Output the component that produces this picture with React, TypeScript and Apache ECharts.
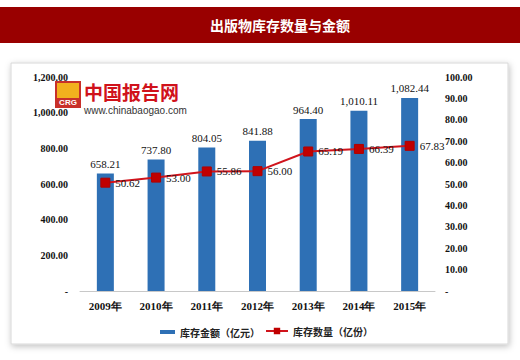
import React, { useEffect, useRef } from "react";
import * as echarts from "echarts";

const years = ["2009年", "2010年", "2011年", "2012年", "2013年", "2014年", "2015年"];
const amount = [658.21, 737.8, 804.05, 841.88, 964.4, 1010.11, 1082.44];
const quantity = [50.62, 53.0, 55.86, 56.0, 65.19, 66.39, 67.83];
const amountName = "库存金额（亿元）";
const quantityName = "库存数量（亿份）";
const title = "出版物库存数量与金额";

const fmt = (v: number) =>
  v === 0 ? "-" : v.toLocaleString("en-US", { minimumFractionDigits: 2, maximumFractionDigits: 2 });

const serif = "'Liberation Serif', 'Times New Roman', serif";
const cjk = "'Noto Sans CJK SC', sans-serif";

export default function App() {
  const ref = useRef<HTMLDivElement>(null);
  useEffect(() => {
    if (!ref.current) return;
    const chart = echarts.init(ref.current, null, { renderer: "svg" });
    chart.setOption({
      animation: false,
      backgroundColor: "#ffffff",
      graphic: [
        { type: "rect", z: -10, shape: { x: 0, y: 7, width: 520, height: 36 }, style: { fill: "#990000" } },
        {
          type: "text", z: 10, x: 280, y: 25,
          style: { text: title, fill: "#ffffff", font: `bold 14px ${cjk}`, align: "center", verticalAlign: "middle" },
        },
        {
          type: "rect", z: -10,
          shape: { x: 11, y: 63, width: 497, height: 281 },
          style: { fill: "#ffffff", stroke: "#d8d8d8", lineWidth: 1, shadowColor: "rgba(0,0,0,0.25)", shadowBlur: 6, shadowOffsetX: 1, shadowOffsetY: 2 },
        },
        {
          type: "group", x: 56, y: 82, z: 5,
          children: [
            { type: "rect", shape: { x: 0, y: 0, width: 24, height: 25 }, style: { fill: "#f2b01e", stroke: "#c8302a", lineWidth: 2 } },
            { type: "rect", shape: { x: 1, y: 16, width: 22, height: 8 }, style: { fill: "#c8302a" } },
            { type: "text", x: 12, y: 20, style: { text: "CRG", fill: "#ffffff", font: `bold 8px sans-serif`, align: "center", verticalAlign: "middle" } },
          ],
        },
        {
          type: "text", x: 84, y: 91, z: 5,
          style: { text: "中国报告网", fill: "#d0121b", font: `bold 19px ${cjk}`, verticalAlign: "middle" },
        },
        {
          type: "text", x: 84, y: 110, z: 5,
          style: { text: "www.chinabaogao.com", fill: "#333333", font: `10px 'Liberation Sans', Arial, sans-serif`, verticalAlign: "middle" },
        },
      ],
      grid: { left: 80, right: 85, top: 77, bottom: 69 },
      legend: [
        {
          data: [amountName], left: 155, top: 322, itemWidth: 15, itemHeight: 4, icon: "rect",
          itemGap: 4, textStyle: { fontFamily: cjk, fontSize: 10, color: "#222", fontWeight: "bold" },
        },
        {
          data: [quantityName], left: 260, top: 321, itemWidth: 22, itemHeight: 8,
          textStyle: { fontFamily: cjk, fontSize: 10, color: "#222", fontWeight: "bold" },
        },
      ],
      xAxis: {
        type: "category",
        data: years,
        axisLine: { lineStyle: { color: "#c8c8c8" } },
        axisTick: { show: false },
        axisLabel: { color: "#111", fontFamily: serif, fontWeight: "bold", fontSize: 11, margin: 9 },
      },
      yAxis: [
        {
          type: "value", min: 0, max: 1200, interval: 200,
          splitLine: { show: false },
          axisLine: { show: false }, axisTick: { show: false },
          axisLabel: { formatter: fmt, color: "#111", fontFamily: serif, fontWeight: "bold", fontSize: 10, margin: 12 },
        },
        {
          type: "value", min: 0, max: 100, interval: 10,
          splitLine: { show: false },
          axisLine: { show: false }, axisTick: { show: false },
          axisLabel: { formatter: fmt, color: "#111", fontFamily: serif, fontWeight: "bold", fontSize: 10, margin: 10 },
        },
      ],
      series: [
        {
          name: amountName, type: "bar", data: amount, barWidth: 17,
          itemStyle: { color: "#2e70b5" },
          label: { show: true, position: "top", formatter: (p: any) => fmt(p.value), color: "#111", fontFamily: serif, fontSize: 11, distance: 4 },
        },
        {
          name: quantityName, type: "line", yAxisIndex: 1, data: quantity,
          symbol: "rect", symbolSize: 9,
          lineStyle: { color: "#d0141c", width: 2 },
          itemStyle: { color: "#c00000", borderColor: "#b00000" },
          label: { show: true, position: "right", formatter: (p: any) => p.value.toFixed(2), color: "#111", fontFamily: serif, fontSize: 11, distance: 5 },
        },
      ],
    });
    return () => chart.dispose();
  }, []);
  return <div ref={ref} style={{ position: "fixed", left: 0, top: 0, width: 520, height: 360 }} />;
}
